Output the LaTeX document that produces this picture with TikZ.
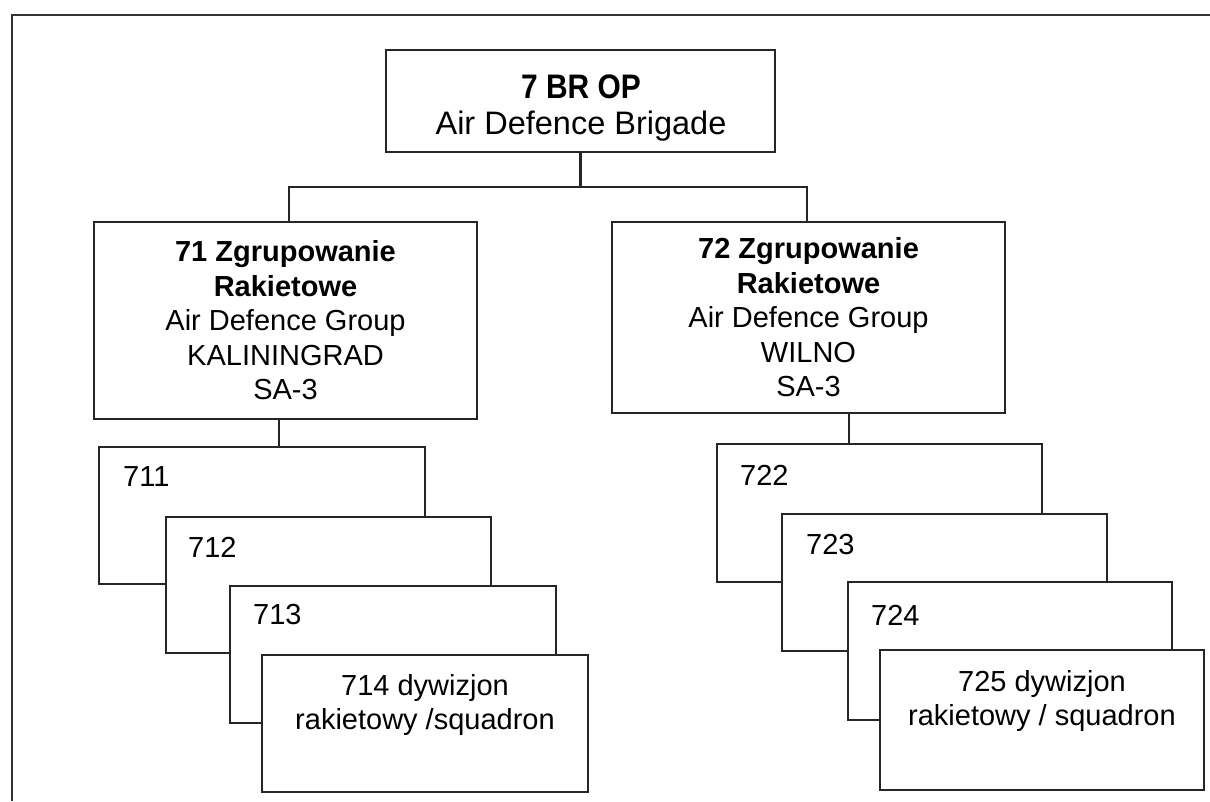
\documentclass[tikz,border=0pt]{standalone}
\usepackage{fontspec}
\setmainfont{Liberation Sans}
\begin{document}
\begin{tikzpicture}[x=1pt,y=-1pt,
  box/.style={draw=black!85, line width=2.2pt, fill=white, inner sep=0pt, align=center},
  conn/.style={draw=black!85, line width=2.2pt},
  frame/.style={draw=black!80, line width=2pt},
  big/.style={font=\fontsize{29}{34.5}\selectfont},
  numtxt/.style={font=\fontsize{29}{34}\selectfont, anchor=west, inner sep=0pt}]
\useasboundingbox (0,0) rectangle (1210,801);
\fill[white] (0,0) rectangle (1210,801);
% frame
\coordinate (fA) at (1210,15);
\coordinate (fB) at (12,15);
\coordinate (fC) at (12,801);
\draw[frame] (fA) -- (fB) -- (fC);
% top box
\node[box, minimum width=389pt, minimum height=102pt] (top) at (580.5,101) {};
\node[font=\fontsize{34}{38}\selectfont\bfseries, inner sep=0pt] (t1) at (581,87) {\scalebox{0.88}[1]{7 BR OP}};
\node[font=\fontsize{32.5}{38}\selectfont, inner sep=0pt] (t2) at (581,126) {Air Defence Brigade};
% level 2
\node[box, big, minimum width=383pt, minimum height=197pt] (b71) at (285.5,320.5)
  {\textbf{71 Zgrupowanie}\\\textbf{Rakietowe}\\Air Defence Group\\KALININGRAD\\SA-3};
\node[box, big, minimum width=393pt, minimum height=191pt] (b72) at (808.5,317.5)
  {\textbf{72 Zgrupowanie}\\\textbf{Rakietowe}\\Air Defence Group\\WILNO\\SA-3};
% connectors top
\draw[conn] (top.south) -- ++(0,34) coordinate (jn);
\draw[conn] (b71.north -| 289,0) |- (jn) -| (b72.north -| 807,0);
% left stack
\node[box, minimum width=326pt, minimum height=137pt] (b711) at (262,515.5) {};
\node[box, minimum width=325pt, minimum height=136pt] (b712) at (328.5,585) {};
\node[box, minimum width=326pt, minimum height=137pt] (b713) at (393,654.5) {};
\node[box, big, minimum width=326pt, minimum height=137pt] (b714) at (425,723.5) {};
\node[numtxt] (n711) at (123,477) {711};
\node[numtxt] (n712) at (188,547) {712};
\node[numtxt] (n713) at (253,615) {713};
\node[big, inner sep=0pt] (n714a) at (425,688) {714 dywizjon};
\node[big, inner sep=0pt] (n714b) at (425,722) {rakietowy /squadron};
\draw[conn] ([xshift=-6.5pt]b71.south) -- ([xshift=-6.5pt]b71.south |- b711.north);
% right stack
\node[box, minimum width=325pt, minimum height=138pt] (b722) at (879.5,513) {};
\node[box, minimum width=325pt, minimum height=137pt] (b723) at (944.5,582.5) {};
\node[box, minimum width=324pt, minimum height=138pt] (b724) at (1010,651) {};
\node[box, minimum width=324pt, minimum height=140pt] (b725) at (1042,720) {};
\node[numtxt] (n722) at (740,475) {722};
\node[numtxt] (n723) at (806,545) {723};
\node[numtxt] (n724) at (871,615) {724};
\node[big, inner sep=0pt] (n725a) at (1042,684) {725 dywizjon};
\node[big, inner sep=0pt] (n725b) at (1042,718) {rakietowy / squadron};
\draw[conn] ([xshift=40.5pt]b72.south) -- ([xshift=40.5pt]b72.south |- b722.north);
\end{tikzpicture}
\end{document}
